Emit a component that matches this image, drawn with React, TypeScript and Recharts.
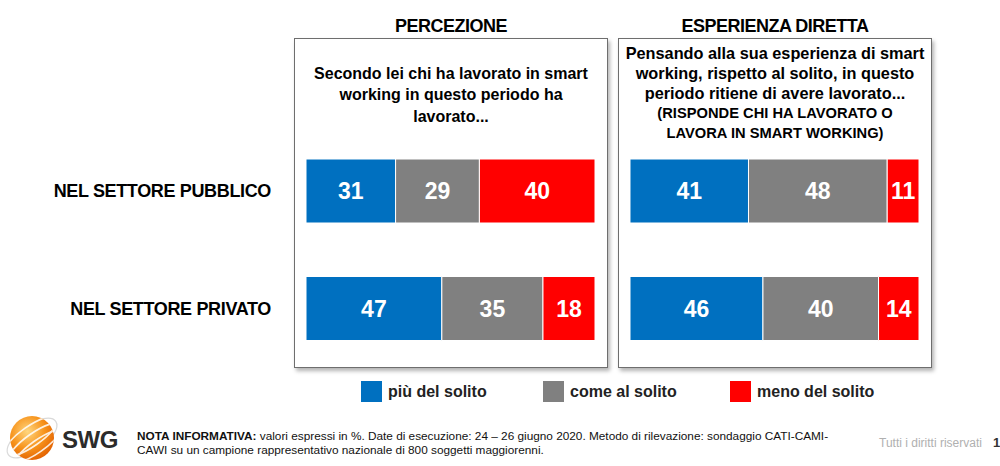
import React from "react";
import { BarChart, Bar, XAxis, YAxis, LabelList } from "recharts";

const categories = ["NEL SETTORE PUBBLICO", "NEL SETTORE PRIVATO"];
const seriesNames = ["più del solito", "come al solito", "meno del solito"];
const seriesKeys = ["piu", "come", "meno"];
const seriesColors = ["#0070C0", "#808080", "#FF0000"];

const percezionePiu = [31, 47];
const percezioneCome = [29, 35];
const percezioneMeno = [40, 18];

const esperienzaPiu = [41, 46];
const esperienzaCome = [48, 40];
const esperienzaMeno = [11, 14];

const panelTitles = ["PERCEZIONE", "ESPERIENZA DIRETTA"];
const percezioneQuestion = [
  "Secondo lei chi ha lavorato in smart",
  "working in questo periodo ha",
  "lavorato...",
];
const esperienzaQuestion = [
  "Pensando alla sua esperienza di smart",
  "working, rispetto al solito, in questo",
  "periodo ritiene di avere lavorato...",
];
const esperienzaNote = ["(RISPONDE CHI HA LAVORATO O", "LAVORA IN SMART WORKING)"];

const notaBold = "NOTA INFORMATIVA:";
const notaLine1 =
  " valori espressi in %. Date di esecuzione: 24 \u2013 26 giugno 2020. Metodo di rilevazione: sondaggio CATI-CAMI-";
const notaLine2 = "CAWI su un campione rappresentativo nazionale di 800 soggetti maggiorenni.";
const rightsText = "Tutti i diritti riservati";
const pageNumber = "1";

const FONT = "'Liberation Sans', Arial, Helvetica, sans-serif";

const buildData = (a: number[], b: number[], c: number[]) =>
  categories.map((cat, i) => ({ cat, piu: a[i], come: b[i], meno: c[i] }));

const percezioneData = buildData(percezionePiu, percezioneCome, percezioneMeno);
const esperienzaData = buildData(esperienzaPiu, esperienzaCome, esperienzaMeno);

const CatTick = (props: any) => {
  const { x, y, payload } = props;
  return (
    <text
      x={x - 27}
      y={y}
      dy="0.36em"
      textAnchor="end"
      fontSize={18}
      fontWeight="bold"
      letterSpacing={-0.35}
      fill="#000"
      fontFamily={FONT}
    >
      {payload.value}
    </text>
  );
};

const renderBars = () =>
  seriesKeys.map((k, i) => (
    <Bar
      key={k}
      dataKey={k}
      name={seriesNames[i]}
      stackId="s"
      fill={seriesColors[i]}
      stroke="#ffffff"
      strokeWidth={1}
      isAnimationActive={false}
    >
      <LabelList
        dataKey={k}
        position="center"
        fill="#ffffff"
        fontSize={23}
        fontWeight="bold"
        fontFamily={FONT}
      />
    </Bar>
  ));

const boxStyle = (left: number): React.CSSProperties => ({
  position: "absolute",
  left,
  top: 38,
  width: 312,
  height: 328,
  border: "1px solid #6e6e6e",
  boxShadow: "2px 3px 4px rgba(0,0,0,0.3)",
  background: "#fff",
});

const titleStyle = (left: number): React.CSSProperties => ({
  position: "absolute",
  left,
  top: 14,
  width: 314,
  textAlign: "center",
  fontSize: 18,
  fontWeight: "bold",
  letterSpacing: -0.5,
  lineHeight: "24px",
  color: "#000",
  whiteSpace: "nowrap",
});

const lineStyle = (
  left: number,
  centerY: number,
  size: number,
  lh: number
): React.CSSProperties => ({
  position: "absolute",
  left,
  top: centerY - lh / 2,
  width: 314,
  textAlign: "center",
  fontSize: size,
  fontWeight: "bold",
  lineHeight: `${lh}px`,
  color: "#000",
  whiteSpace: "nowrap",
});

const Logo = () => (
  <svg width={64} height={56} style={{ position: "absolute", left: 1, top: 410 }}>
    <defs>
      <radialGradient id="sph" cx="40%" cy="35%" r="70%">
        <stop offset="0%" stopColor="#ffd780" />
        <stop offset="55%" stopColor="#f7941d" />
        <stop offset="100%" stopColor="#e25f00" />
      </radialGradient>
      <clipPath id="clipSph">
        <circle cx={31} cy={28} r={22} />
      </clipPath>
    </defs>
    <ellipse
      cx={31}
      cy={28}
      rx={29}
      ry={13}
      transform="rotate(-35 31 28)"
      fill="none"
      stroke="#d9d9d9"
      strokeWidth={1.2}
    />
    <circle cx={31} cy={28} r={22} fill="url(#sph)" />
    <g clipPath="url(#clipSph)" fill="none" stroke="#ffffff" strokeWidth={1.7} opacity={0.85}>
      <ellipse cx={31} cy={34} rx={32} ry={10} transform="rotate(-35 31 28)" />
      <ellipse cx={31} cy={42} rx={32} ry={10} transform="rotate(-35 31 28)" />
      <ellipse cx={31} cy={26} rx={32} ry={10} transform="rotate(-35 31 28)" />
    </g>
  </svg>
);

const legendLefts = [361, 543, 730];

export default function App() {
  return (
    <div
      style={{
        position: "absolute",
        left: 0,
        top: 0,
        width: 1000,
        height: 466,
        background: "#fff",
        fontFamily: FONT,
        overflow: "hidden",
      }}
    >
      <div style={boxStyle(294)} />
      <div style={boxStyle(618)} />

      <div style={titleStyle(294)}>{panelTitles[0]}</div>
      <div style={titleStyle(618)}>{panelTitles[1]}</div>

      {percezioneQuestion.map((t, i) => (
        <div key={"pq" + i} style={lineStyle(294, 73 + i * 21.5, 16, 21)}>
          {t}
        </div>
      ))}
      {esperienzaQuestion.map((t, i) => (
        <div key={"eq" + i} style={lineStyle(618, 53 + i * 20, 16.3, 20)}>
          {t}
        </div>
      ))}
      {esperienzaNote.map((t, i) => (
        <div key={"en" + i} style={lineStyle(618, 113 + i * 20, 14.7, 20)}>
          {t}
        </div>
      ))}

      <div style={{ position: "absolute", left: 0, top: 0 }}>
        <BarChart
          width={610}
          height={400}
          data={percezioneData}
          layout="vertical"
          margin={{ top: 132, right: 15, bottom: 33, left: 0 }}
          barSize={64}
        >
          <XAxis type="number" domain={[0, 100]} hide />
          <YAxis
            type="category"
            dataKey="cat"
            width={306}
            axisLine={false}
            tickLine={false}
            tick={<CatTick />}
          />
          {renderBars()}
        </BarChart>
      </div>

      <div style={{ position: "absolute", left: 618, top: 0 }}>
        <BarChart
          width={320}
          height={400}
          data={esperienzaData}
          layout="vertical"
          margin={{ top: 132, right: 19, bottom: 33, left: 12 }}
          barSize={64}
        >
          <XAxis type="number" domain={[0, 100]} hide />
          <YAxis type="category" dataKey="cat" hide />
          {renderBars()}
        </BarChart>
      </div>

      {seriesNames.map((n, i) => (
        <div
          key={n}
          style={{
            position: "absolute",
            left: legendLefts[i],
            top: 381,
            height: 21,
            display: "flex",
            alignItems: "center",
            whiteSpace: "nowrap",
          }}
        >
          <div style={{ width: 21, height: 21, background: seriesColors[i] }} />
          <span
            style={{
              marginLeft: 6,
              fontSize: 16,
              fontWeight: "bold",
              color: "#222",
              lineHeight: "21px",
            }}
          >
            {n}
          </span>
        </div>
      ))}

      <Logo />
      <div
        style={{
          position: "absolute",
          left: 62,
          top: 425,
          fontSize: 24,
          fontWeight: "bold",
          letterSpacing: -0.5,
          color: "#2b2b2b",
          lineHeight: "30px",
        }}
      >
        SWG
      </div>

      <div
        style={{
          position: "absolute",
          left: 137,
          top: 429,
          fontSize: 11.8,
          lineHeight: "14px",
          color: "#111",
          whiteSpace: "nowrap",
        }}
      >
        <div>
          <b>{notaBold}</b>
          {notaLine1}
        </div>
        <div>{notaLine2}</div>
      </div>

      <div
        style={{
          position: "absolute",
          left: 879,
          top: 435,
          fontSize: 12,
          lineHeight: "16px",
          color: "#b0b0b0",
          whiteSpace: "nowrap",
        }}
      >
        {rightsText}
      </div>
      <div
        style={{
          position: "absolute",
          left: 993,
          top: 435,
          fontSize: 13,
          fontWeight: "bold",
          lineHeight: "16px",
          color: "#333",
        }}
      >
        {pageNumber}
      </div>
    </div>
  );
}
